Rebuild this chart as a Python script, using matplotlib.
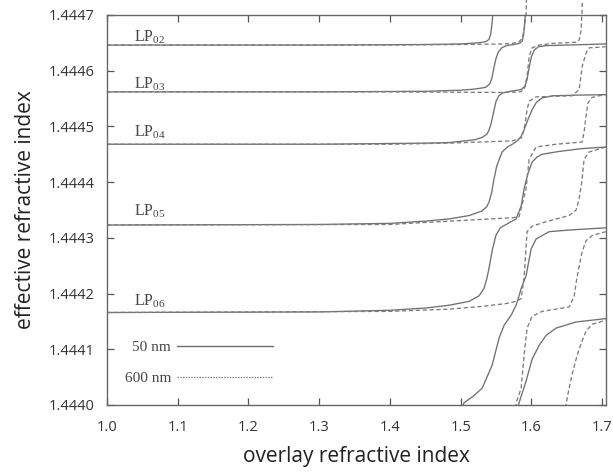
import matplotlib
matplotlib.use("Agg")
import matplotlib.pyplot as plt
from matplotlib.lines import Line2D

# ---------------- data ----------------
x_ticks = [1.0, 1.1, 1.2, 1.3, 1.4, 1.5, 1.6, 1.7]
y_ticks = [1.4440, 1.4441, 1.4442, 1.4443, 1.4444, 1.4445, 1.4446, 1.4447]

mode_labels = ["LP$_{\\mathregular{02}}$", "LP$_{\\mathregular{03}}$", "LP$_{\\mathregular{04}}$",
               "LP$_{\\mathregular{05}}$", "LP$_{\\mathregular{06}}$"]
label_y = [1.444661, 1.444575, 1.444489, 1.444348, 1.444186]

# 50 nm overlay (solid)
n_s2 = [1.000, 1.300, 1.450, 1.500, 1.525, 1.535, 1.540, 1.5425, 1.5444, 1.546]
v_s2 = [1.444646, 1.444646, 1.444647, 1.444648, 1.444650, 1.444652, 1.444656, 1.444666, 1.444685, 1.444710]

n_s3 = [1.000, 1.300, 1.450, 1.500, 1.520, 1.535, 1.541, 1.544, 1.547, 1.550, 1.553, 1.558, 1.565, 1.575,
        1.583, 1.587, 1.589, 1.5905, 1.592]
v_s3 = [1.444562, 1.444562, 1.444563, 1.444565, 1.444567, 1.444570, 1.444576, 1.444586, 1.444605, 1.444622,
        1.444633, 1.444641, 1.444645, 1.444647, 1.444649, 1.444653, 1.444665, 1.444685, 1.444710]

n_s4 = [1.000, 1.300, 1.450, 1.484, 1.520, 1.530, 1.537, 1.540, 1.543, 1.547, 1.550, 1.554, 1.559, 1.570,
        1.585, 1.591, 1.594, 1.597, 1.600, 1.604, 1.610, 1.620, 1.650, 1.705]
v_s4 = [1.444468, 1.444468, 1.444470, 1.444471, 1.444476, 1.444480, 1.444486, 1.444493, 1.444505, 1.444528,
        1.444545, 1.444555, 1.444560, 1.444563, 1.444566, 1.444572, 1.444585, 1.444607, 1.444625, 1.444637,
        1.444643, 1.444645, 1.444646, 1.444648]

n_s5 = [1.000, 1.300, 1.400, 1.450, 1.484, 1.512, 1.530, 1.537, 1.540, 1.544, 1.547, 1.551, 1.5586, 1.566,
        1.573, 1.580, 1.5855, 1.590, 1.596, 1.601, 1.607, 1.615, 1.630, 1.660, 1.705]
v_s5 = [1.444323, 1.444324, 1.444326, 1.444330, 1.444334, 1.444340, 1.444348, 1.444356, 1.444364, 1.444382,
        1.444405, 1.444429, 1.444454, 1.444463, 1.444468, 1.444474, 1.444482, 1.444495, 1.444515, 1.444530,
        1.444543, 1.444551, 1.444555, 1.444556, 1.444557]

n_s6 = [1.000, 1.300, 1.400, 1.450, 1.4836, 1.512, 1.526, 1.533, 1.537, 1.540, 1.545, 1.550, 1.556, 1.5657,
        1.5784, 1.5855, 1.5897, 1.595, 1.601, 1.608, 1.615, 1.639, 1.670, 1.705]
v_s6 = [1.444166, 1.444167, 1.444170, 1.444174, 1.444179, 1.444186, 1.444196, 1.444209, 1.444227, 1.444245,
        1.444280, 1.444305, 1.444318, 1.444325, 1.444334, 1.444357, 1.444388, 1.444415, 1.444436, 1.444445,
        1.444450, 1.444455, 1.444460, 1.444463]

n_s7 = [1.495, 1.5048, 1.518, 1.5303, 1.5444, 1.5543, 1.5614, 1.5713, 1.5784, 1.5826, 1.5855, 1.5925,
        1.5996, 1.6067, 1.625, 1.6533, 1.705]
v_s7 = [1.443970, 1.444004, 1.444016, 1.444030, 1.444071, 1.444120, 1.444143, 1.444161, 1.444179, 1.444196,
        1.444209, 1.444232, 1.444280, 1.444298, 1.444311, 1.444314, 1.444318]

n_s8 = [1.575, 1.5826, 1.5925, 1.601, 1.6109, 1.6208, 1.6349, 1.6632, 1.705]
v_s8 = [1.443970, 1.444004, 1.444043, 1.444082, 1.444107, 1.444125, 1.444138, 1.444149, 1.444155]

# 600 nm overlay (dashed)
n_d2 = [1.000, 1.400, 1.500, 1.560, 1.5727, 1.5826, 1.5869, 1.5897, 1.5925, 1.593]
v_d2 = [1.444646, 1.444646, 1.444647, 1.444648, 1.444649, 1.444652, 1.444658, 1.444673, 1.444703, 1.444727]

n_d3 = [1.000, 1.400, 1.560, 1.5841, 1.5897, 1.5939, 1.5968, 1.601, 1.6109, 1.6293, 1.6632, 1.6675,
        1.6703, 1.6717, 1.672]
v_d3 = [1.444562, 1.444562, 1.444561, 1.444562, 1.444566, 1.444590, 1.444626, 1.444641, 1.444646, 1.444649,
        1.444651, 1.444655, 1.444673, 1.444709, 1.444725]

n_d4 = [1.000, 1.400, 1.4836, 1.5727, 1.5869, 1.5911, 1.5939, 1.5968, 1.6067, 1.6576, 1.6675, 1.6717,
        1.6774, 1.6816, 1.705]
v_d4 = [1.444468, 1.444468, 1.444470, 1.444474, 1.444480, 1.444505, 1.444530, 1.444545, 1.444553, 1.444555,
        1.444566, 1.444607, 1.444632, 1.444641, 1.444643]

n_d5 = [1.000, 1.400, 1.4836, 1.5727, 1.5826, 1.5925, 1.5968, 1.6067, 1.6349, 1.6717, 1.6745, 1.6774,
        1.6800, 1.6858, 1.6957, 1.705]
v_d5 = [1.444323, 1.444324, 1.444330, 1.444336, 1.444338, 1.444388, 1.444441, 1.444463, 1.444468, 1.444472,
        1.444490, 1.444520, 1.444542, 1.444552, 1.444555, 1.444557]

n_d6 = [1.000, 1.400, 1.4836, 1.5303, 1.5642, 1.5784, 1.5855, 1.5897, 1.5939, 1.601, 1.6208, 1.6533,
        1.6632, 1.6675, 1.6717, 1.6745, 1.6816, 1.705]
v_d6 = [1.444166, 1.444168, 1.444172, 1.444177, 1.444182, 1.444186, 1.444191, 1.444230, 1.444311, 1.444321,
        1.444329, 1.444340, 1.444350, 1.444370, 1.444405, 1.444441, 1.444454, 1.444463]

n_d7 = [1.575, 1.5784, 1.5855, 1.5897, 1.5939, 1.601, 1.6151, 1.6392, 1.6533, 1.6604, 1.6646, 1.6717,
        1.6774, 1.6858, 1.705]
v_d7 = [1.443970, 1.444004, 1.444030, 1.444089, 1.444138, 1.444159, 1.444168, 1.444173, 1.444176, 1.444195,
        1.444230, 1.444275, 1.444295, 1.444304, 1.444311]

n_d8 = [1.645, 1.6491, 1.6533, 1.6576, 1.6632, 1.6675, 1.6717, 1.6774, 1.6858, 1.705]
v_d8 = [1.443970, 1.444002, 1.444030, 1.444055, 1.444082, 1.444100, 1.444115, 1.444133, 1.444145, 1.444152]

solid_curves = [(n_s2, v_s2), (n_s3, v_s3), (n_s4, v_s4), (n_s5, v_s5), (n_s6, v_s6), (n_s7, v_s7), (n_s8, v_s8)]
dashed_curves = [(n_d2, v_d2), (n_d3, v_d3), (n_d4, v_d4), (n_d5, v_d5), (n_d6, v_d6), (n_d7, v_d7), (n_d8, v_d8)]
legend_labels = ["50 nm", "600 nm"]

# ---------------- figure ----------------
plt.rcParams['font.family'] = ['Open Sans', 'DejaVu Sans']
fig = plt.figure(figsize=(6.13, 4.74), dpi=100)
ax = fig.add_axes([0.1746, 0.1456, 0.8140, 0.8228])

solid_col = "#707070"
dash_col = "#7c7c7c"

for n, v in solid_curves:
    ax.plot(n, v, color=solid_col, lw=0.95, solid_joinstyle='round')
for i, (n, v) in enumerate(dashed_curves):
    ax.plot(n, v, color=dash_col, lw=0.95, linestyle=(0, (3.2, 2.0)),
            clip_on=(i >= 2))

ax.set_xlim(1.0, 1.7055)
ax.set_ylim(1.4440, 1.4447)
ax.set_xticks(x_ticks)
ax.set_xticklabels([f"{t:.1f}" for t in x_ticks])
ax.set_yticks(y_ticks)
ax.set_yticklabels([f"{t:.4f}" for t in y_ticks])

ax.tick_params(direction='in', top=True, right=True, length=5, width=0.9,
               color="#555555", labelsize=10.5, labelcolor="#333333")
ax.tick_params(axis='x', pad=11)
ax.tick_params(axis='y', pad=9)
for s in ax.spines.values():
    s.set_color("#666666")
    s.set_linewidth(1.0)

ax.set_xlabel("overlay refractive index", fontsize=15, color="#222222", labelpad=8)
ax.set_ylabel("effective refractive index", fontsize=15, color="#222222", labelpad=9)

for lab, y in zip(mode_labels, label_y):
    ax.text(1.038, y, lab, fontsize=11.5, family='Liberation Serif', color="#444444",
            ha='left', va='center')

handles = [Line2D([], [], color=solid_col, lw=1.0),
           Line2D([], [], color=dash_col, lw=0.9, linestyle=(0, (1.2, 1.0)))]
leg = ax.legend(handles, legend_labels, loc='upper left', bbox_to_anchor=(0.02, 0.185),
                frameon=False, markerfirst=False, handlelength=6.3, handletextpad=0.4,
                labelspacing=1.15, borderpad=0.0,
                prop={'family': 'Liberation Serif', 'size': 11})
for t in leg.get_texts():
    t.set_color("#444444")

fig.savefig("out.png", dpi=100)
